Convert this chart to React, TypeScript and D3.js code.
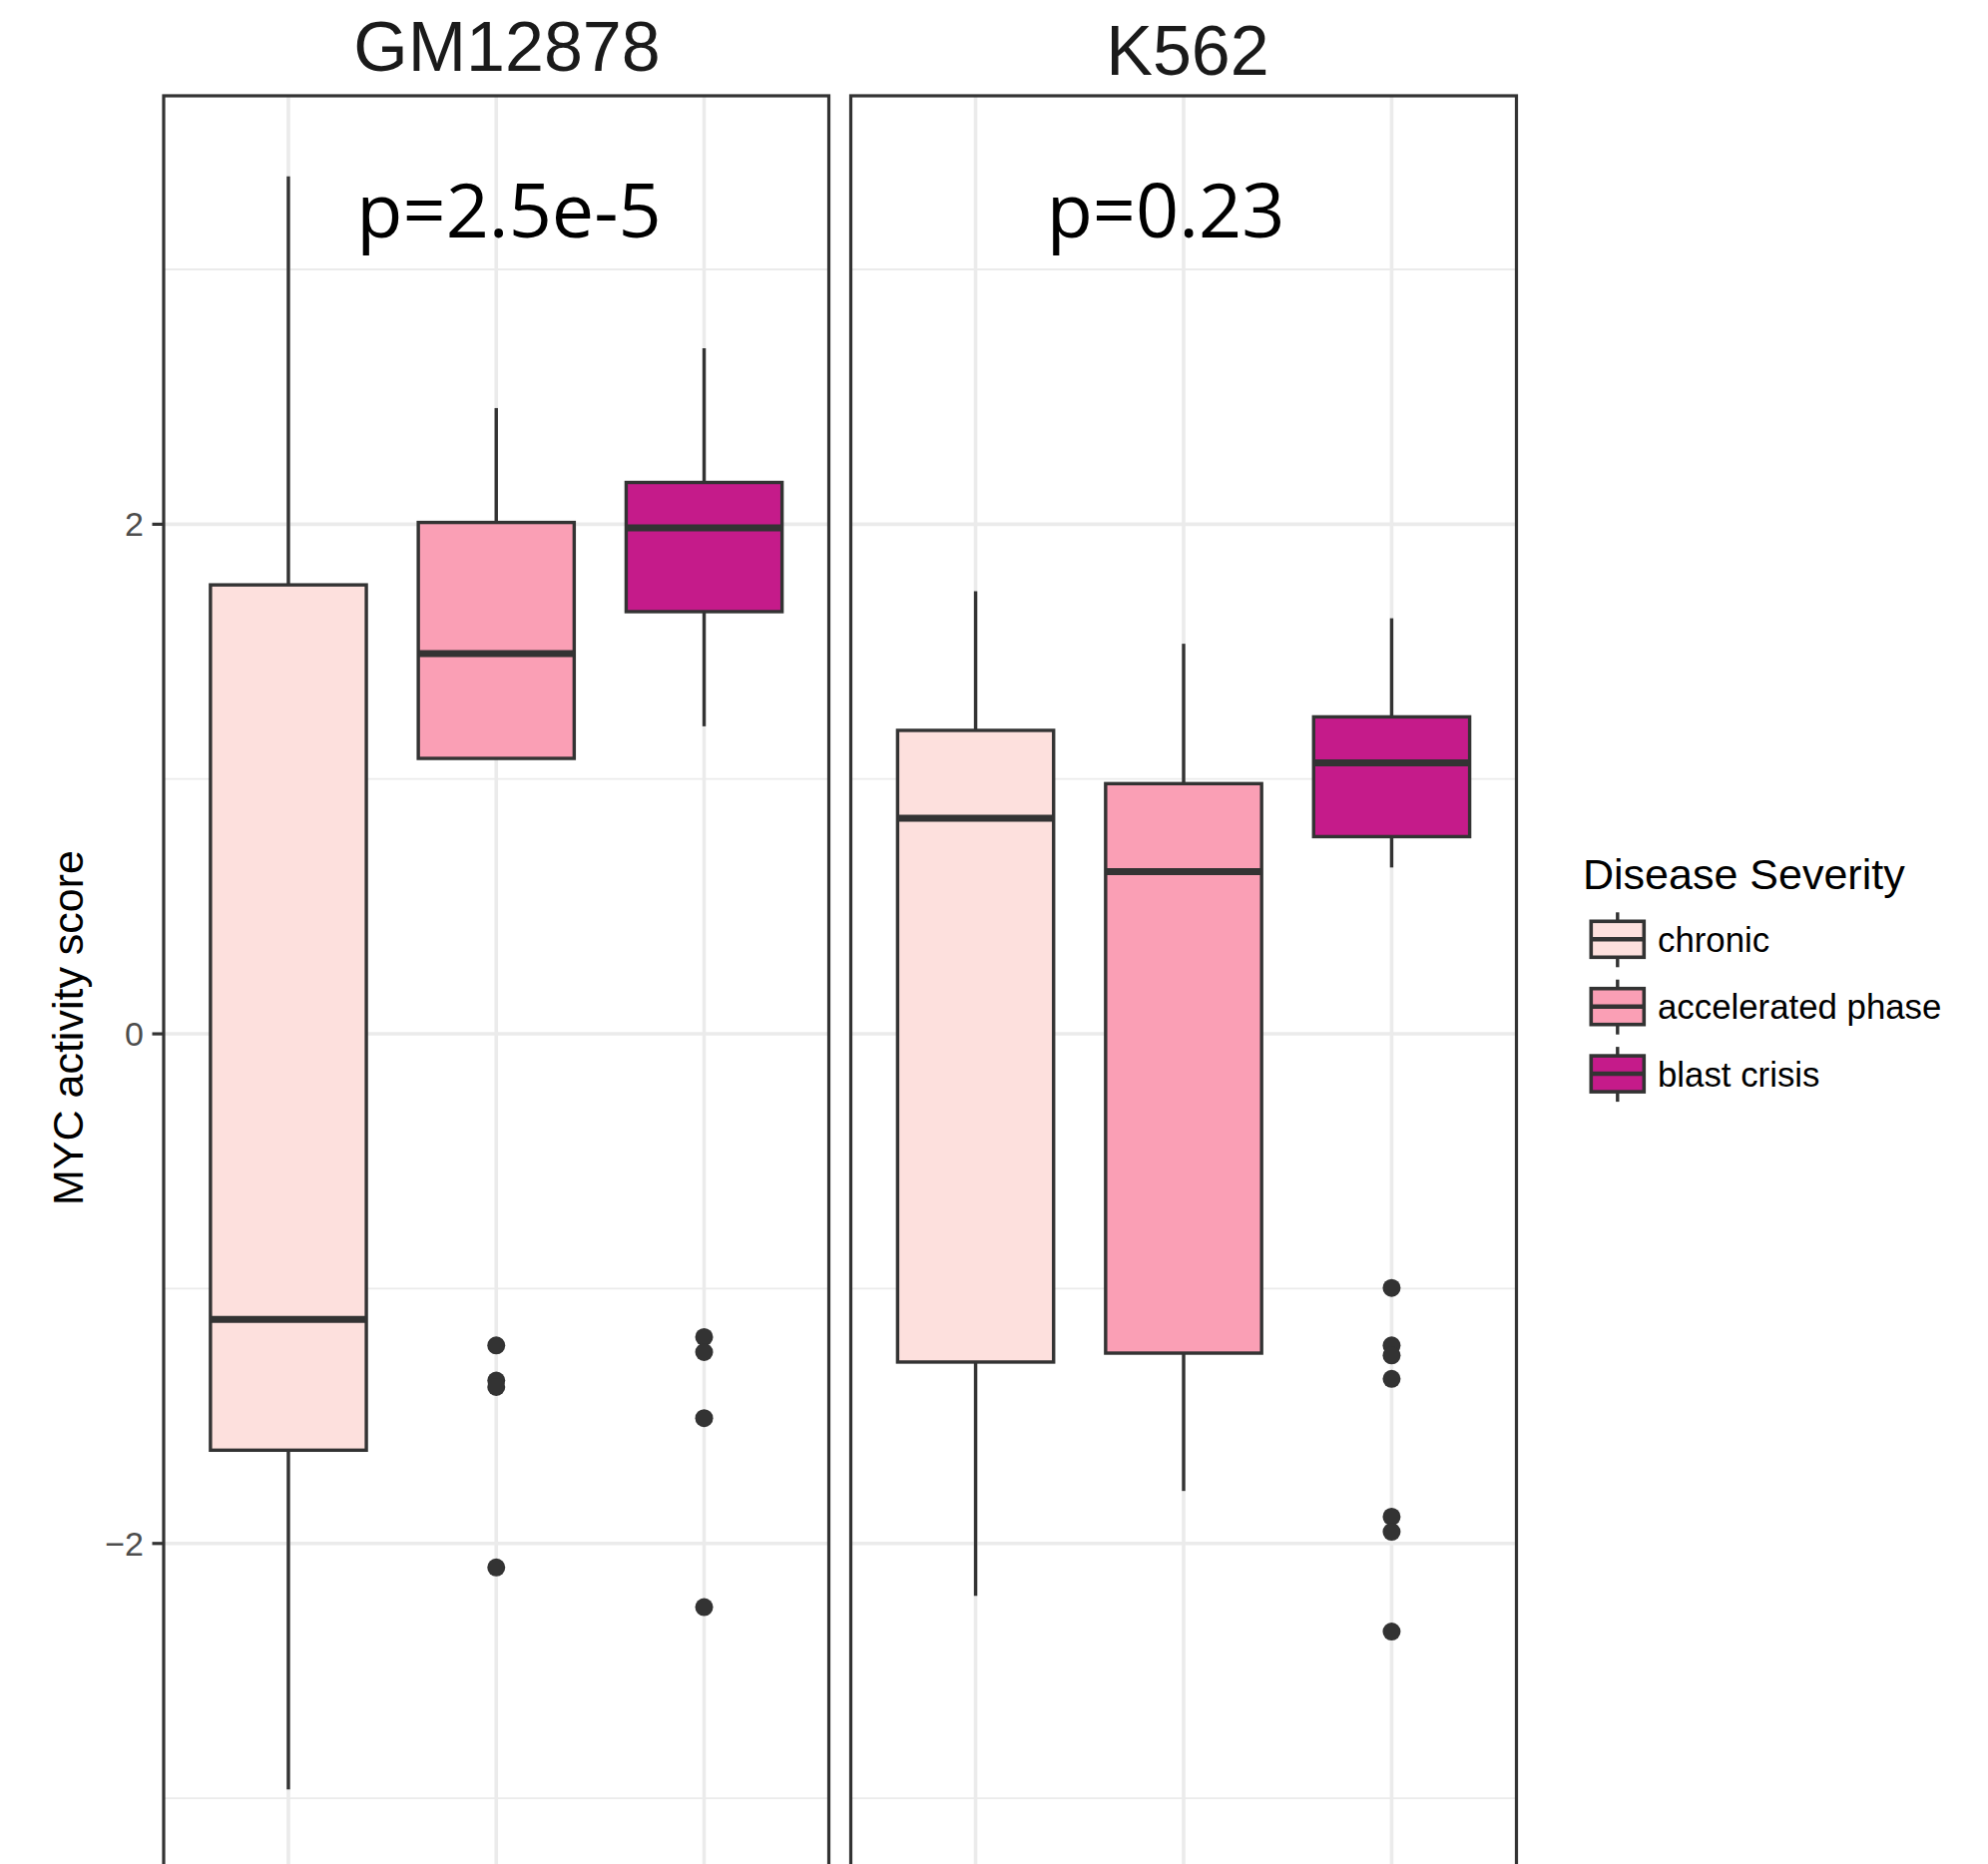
import React from "react";
import * as d3 from "d3";

// ---------- data ----------
const panels = ["GM12878", "K562"];
const severities = ["chronic", "accelerated phase", "blast crisis"];
const severityColors = ["#fde0dd", "#fa9fb5", "#c51b8a"];
const pValues = ["p=2.5e-5", "p=0.23"];

// GM12878 box statistics (chronic, accelerated phase, blast crisis)
const gmLower = [-2.965, 1.081, 1.207];
const gmQ1 = [-1.634, 1.081, 1.657];
const gmMedian = [-1.121, 1.492, 1.986];
const gmQ3 = [1.762, 2.007, 2.164];
const gmUpper = [3.365, 2.456, 2.691];
const gmOutliers = [[], [-1.223, -1.361, -1.386, -2.094], [-1.19, -1.249, -1.508, -2.25]];

// K562 box statistics
const kLower = [-2.206, -1.794, 0.653];
const kQ1 = [-1.288, -1.253, 0.774];
const kMedian = [0.846, 0.637, 1.064];
const kQ3 = [1.191, 0.982, 1.244];
const kUpper = [1.737, 1.531, 1.631];
const kOutliers = [[], [], [-0.997, -1.223, -1.262, -1.354, -1.895, -1.954, -2.346]];

const yMajorTicks = [-2, 0, 2];
const yMinorTicks = [-3, -1, 1, 3];
const yDomain = [-3.2815, 3.6815];

const yTitle = "MYC activity score";
const legendTitle = "Disease Severity";

// ---------- layout ----------
const W = 1992;
const H = 1868;
const panelTop = 96;
const panelBottom = 1874;
const panelX = [
  [164, 830.5],
  [852.5, 1519.5],
];
const stripX = [508, 1190];
const stripY = [71, 75];
const pX = [510, 1168];
const pY = 238;

const gridCol = "#ebebeb";
const darkCol = "#333333";
const SANS = "'Liberation Sans', Arial, Helvetica, sans-serif";

const statsByPanel = [
  { lower: gmLower, q1: gmQ1, median: gmMedian, q3: gmQ3, upper: gmUpper, outliers: gmOutliers },
  { lower: kLower, q1: kQ1, median: kMedian, q3: kQ3, upper: kUpper, outliers: kOutliers },
];

export default function App() {
  const y = d3.scaleLinear().domain(yDomain).range([panelBottom, panelTop]);

  return (
    <svg
      width={W}
      height={H}
      viewBox={`0 0 ${W} ${H}`}
      style={{ position: "absolute", left: 0, top: 0, background: "#ffffff" }}
    >
      <rect x={0} y={0} width={W} height={H} fill="#ffffff" />
      {panels.map((pname, pi) => {
        const [x0, x1] = panelX[pi];
        const x = d3.scalePoint<string>().domain(severities).range([x0, x1]).padding(0.6);
        const step = x.step();
        const bw = step * 0.75;
        const s = statsByPanel[pi];
        return (
          <g key={pname}>
            {/* grid */}
            {yMinorTicks.map((t) => (
              <line key={"mi" + t} x1={x0} x2={x1} y1={y(t)} y2={y(t)} stroke={gridCol} strokeWidth={1.8} />
            ))}
            {yMajorTicks.map((t) => (
              <line key={"ma" + t} x1={x0} x2={x1} y1={y(t)} y2={y(t)} stroke={gridCol} strokeWidth={3.6} />
            ))}
            {severities.map((c) => (
              <line key={"v" + c} x1={x(c)!} x2={x(c)!} y1={panelTop} y2={panelBottom} stroke={gridCol} strokeWidth={3.6} />
            ))}
            {/* boxes */}
            {severities.map((c, i) => {
              const cx = x(c)!;
              return (
                <g key={"b" + c}>
                  <line x1={cx} x2={cx} y1={y(s.upper[i])} y2={y(s.q3[i])} stroke={darkCol} strokeWidth={3.4} />
                  <line x1={cx} x2={cx} y1={y(s.q1[i])} y2={y(s.lower[i])} stroke={darkCol} strokeWidth={3.4} />
                  <rect
                    x={cx - bw / 2}
                    y={y(s.q3[i])}
                    width={bw}
                    height={y(s.q1[i]) - y(s.q3[i])}
                    fill={severityColors[i]}
                    stroke={darkCol}
                    strokeWidth={3.4}
                  />
                  <line
                    x1={cx - bw / 2}
                    x2={cx + bw / 2}
                    y1={y(s.median[i])}
                    y2={y(s.median[i])}
                    stroke={darkCol}
                    strokeWidth={7}
                  />
                  {s.outliers[i].map((v, k) => (
                    <circle key={k} cx={cx} cy={y(v)} r={9} fill={darkCol} />
                  ))}
                </g>
              );
            })}
            {/* panel border */}
            <rect x={x0} y={panelTop} width={x1 - x0} height={panelBottom - panelTop} fill="none" stroke={darkCol} strokeWidth={3.2} />
            {/* strip title */}
            <text x={stripX[pi]} y={stripY[pi]} textAnchor="middle" fontFamily={SANS} fontSize={70} fill="#1a1a1a">
              {pname}
            </text>
            {/* p value */}
            <text x={pX[pi]} y={pY} textAnchor="middle" fontFamily="'Open Sans', 'Noto Sans', sans-serif" fontSize={75.5} fill="#000000">
              {pValues[pi]}
            </text>
          </g>
        );
      })}

      {/* y axis ticks and labels */}
      {yMajorTicks.map((t) => (
        <g key={"yt" + t}>
          <line x1={152.5} x2={164} y1={y(t)} y2={y(t)} stroke={darkCol} strokeWidth={3.2} />
          <text x={144} y={y(t) + 12} textAnchor="end" fontFamily={SANS} fontSize={34} fill="#4d4d4d">
            {t < 0 ? "\u2212" + Math.abs(t) : String(t)}
          </text>
        </g>
      ))}

      {/* y axis title */}
      <text
        transform={`translate(83, 1030) rotate(-90)`}
        textAnchor="middle"
        fontFamily={SANS}
        fontSize={43}
        fill="#000000"
      >
        {yTitle}
      </text>

      {/* legend */}
      <text x={1586} y={890.7} fontFamily={SANS} fontSize={43} fill="#000000">
        {legendTitle}
      </text>
      {severities.map((c, i) => {
        const cy = 941.3 + i * 67.4;
        const kx0 = 1594.3;
        const kx1 = 1647.3;
        const kcx = (kx0 + kx1) / 2;
        return (
          <g key={"lg" + c}>
            <line x1={kcx} x2={kcx} y1={cy - 27} y2={cy + 28} stroke={darkCol} strokeWidth={3.4} />
            <rect x={kx0} y={cy - 18} width={kx1 - kx0} height={36} fill={severityColors[i]} stroke={darkCol} strokeWidth={3.6} />
            <line x1={kx0} x2={kx1} y1={cy} y2={cy} stroke={darkCol} strokeWidth={4.5} />
            <text x={1661} y={cy + 12.5} fontFamily={SANS} fontSize={34.8} fill="#000000">
              {c}
            </text>
          </g>
        );
      })}
    </svg>
  );
}
